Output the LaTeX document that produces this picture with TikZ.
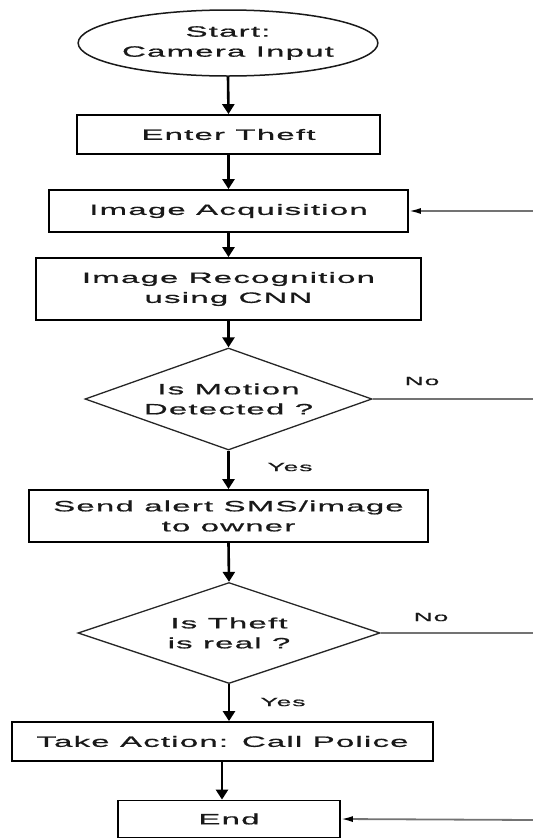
\documentclass[tikz,border=0pt]{standalone}
\usepackage{fontspec}
\setmainfont{Liberation Sans}
\newfontfamily\fcfont{Liberation Sans}[FakeStretch=2.2,LetterSpace=8,FakeBold=0.8]
\usetikzlibrary{shapes.geometric,arrows.meta}
\begin{document}
\begin{tikzpicture}[x=1pt,y=-1pt,
  every node/.style={font=\fcfont\fontsize{15}{20}\selectfont, text=black!90, align=center, inner sep=0pt},
  boxnode/.style={draw=black, line width=1.8pt, rectangle},
  termnode/.style={draw=black!90, line width=1.5pt, ellipse},
  decnode/.style={draw=black!85, line width=1.3pt, diamond, aspect=2.8},
  flow/.style={draw=black, line width=2.6pt, -{Triangle[width=12pt,length=10pt]}},
  back/.style={draw=black!55, line width=1.8pt},
  backarrow/.style={back, -{Latex[width=6pt,length=12pt,black]}},
  lbl/.style={font=\fcfont\fontsize{12}{14}\selectfont}]
\useasboundingbox (0,0) rectangle (533,839);
\node[termnode, minimum width=277pt, minimum height=66pt] (start) at (228,43) {Start:\\Camera Input};
\node[boxnode, minimum width=303pt, minimum height=39pt] (enter) at (228.5,134.5) {Enter Theft};
\node[boxnode, minimum width=359pt, minimum height=42pt] (acq) at (228.5,211) {Image Acquisition};
\node[boxnode, minimum width=385pt, minimum height=62pt] (rec) at (228.5,289) {Image Recognition\\using CNN};
\node[decnode, minimum width=287pt, minimum height=102pt] (d1) at (228.5,399) {Is Motion\\Detected ?};
\node[boxnode, minimum width=399pt, minimum height=52pt] (send) at (228.5,516) {Send alert SMS/image\\to owner};
\node[decnode, minimum width=302pt, minimum height=101pt] (d2) at (229,633) {Is Theft\\is real ?};
\node[boxnode, minimum width=421pt, minimum height=39pt] (act) at (222.5,741.5) {Take Action: Call Police};
\node[boxnode, minimum width=222pt, minimum height=37pt] (end) at (229,819) {End};
\coordinate (r1) at (533,211);
\coordinate (r2) at (533,399);
\coordinate (r3) at (533,633);
\coordinate (r4) at (533,820);
\draw[flow] (start.south) -- (enter.north);
\draw[flow] (enter.south) -- (acq.north);
\draw[flow] (acq.south) -- (rec.north);
\draw[flow] (rec.south) -- (d1.north);
\draw[flow] (d1.south) -- (send.north);
\draw[flow] (send.south) -- (d2.north);
\draw[flow] (d2.south) -- (act.north -| d2.south);
\draw[flow] (act.south -| end.north) ++(-7,0) coordinate (a1) -- (a1 |- end.north);
\draw[back] (d1.east) -- (r2);
\draw[back] (d2.east) -- (r3);
\draw[backarrow] (r1) -- (acq.east);
\draw[backarrow] (r4) -- (end.east);
\node[lbl] (no1) at (422,381) {No};
\node[lbl] (no2) at (431,617) {No};
\node[lbl] (yes1) at (290,467) {Yes};
\node[lbl] (yes2) at (283,702) {Yes};
\end{tikzpicture}
\end{document}
